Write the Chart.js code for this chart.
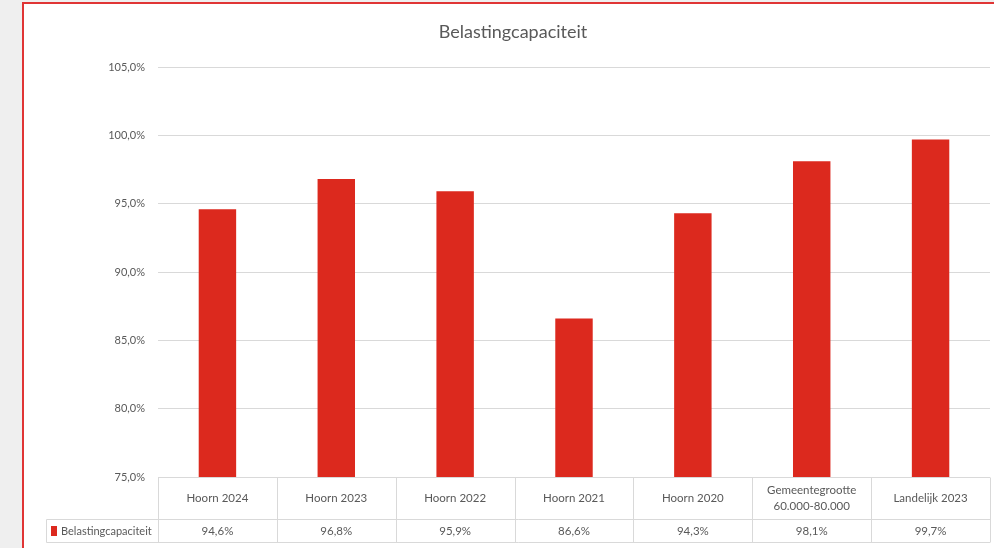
<!DOCTYPE html>
<html>
<head>
<meta charset="utf-8">
<script src="https://cdn.jsdelivr.net/npm/chart.js@4.4.1/dist/chart.umd.min.js"></script>
<style>
  html, body { margin: 0; padding: 0; background: #efefef; width: 994px; height: 548px; overflow: hidden; }
  #frame { position: absolute; left: 22px; top: 2px; width: 1000px; height: 600px; background: #ffffff; border-top: 2px solid #e03535; border-left: 2px solid #e03535; }
  #wrap { position: absolute; left: 0; top: 0; width: 994px; height: 548px; }
</style>
</head>
<body>
<div id="frame"></div>
<div id="wrap"><canvas id="c" width="994" height="548"></canvas></div>
<script>
const chartTitle = "Belastingcapaciteit";
const seriesName = "Belastingcapaciteit";
const categories = [
  "Hoorn 2024",
  "Hoorn 2023",
  "Hoorn 2022",
  "Hoorn 2021",
  "Hoorn 2020",
  ["Gemeentegrootte", "60.000-80.000"],
  "Landelijk 2023"
];
const values = [94.6, 96.8, 95.9, 86.6, 94.3, 98.1, 99.7];
const yMin = 75, yMax = 105, yStep = 5;

const textColor = "#595959";
const lineColor = "#d9d9d9";
const barColor = "#dc291e";
const fontFamily = "Lato, 'Open Sans', sans-serif";

function fmt(v) { return v.toFixed(1).replace('.', ',') + '%'; }

const dataTablePlugin = {
  id: 'dataTable',
  afterDraw(chart) {
    const ctx = chart.ctx;
    const area = chart.chartArea;
    const xs = chart.scales.x;
    const n = chart.data.labels.length;
    const catW = (area.right - area.left) / n;
    const top = Math.round(area.bottom) + 0.5;
    const mid = top + 42;
    const bot = mid + 23;
    const legendLeft = 46.5;
    ctx.save();
    ctx.strokeStyle = lineColor;
    ctx.lineWidth = 1;
    ctx.beginPath();
    ctx.moveTo(area.left, top); ctx.lineTo(area.right, top);
    ctx.moveTo(legendLeft, mid); ctx.lineTo(area.right, mid);
    ctx.moveTo(legendLeft, bot); ctx.lineTo(area.right, bot);
    ctx.moveTo(legendLeft, mid); ctx.lineTo(legendLeft, bot);
    for (let i = 0; i <= n; i++) {
      const px = Math.round(area.left + i * catW) + 0.5;
      ctx.moveTo(px, top); ctx.lineTo(px, bot);
    }
    ctx.stroke();

    ctx.fillStyle = textColor;
    ctx.font = "11.5px " + fontFamily;
    ctx.textAlign = 'center';
    ctx.textBaseline = 'middle';
    const vy = (mid + bot) / 2;
    const ds = chart.data.datasets[0];
    ds.data.forEach((v, i) => {
      ctx.fillText(fmt(v), xs.getPixelForValue(i), vy);
    });
    // legend key + series name
    ctx.fillStyle = ds.backgroundColor;
    ctx.fillRect(51, vy - 5, 6, 10);
    ctx.fillStyle = textColor;
    ctx.font = "11px " + fontFamily;
    ctx.textAlign = 'left';
    ctx.fillText(ds.label, 61, vy);
    ctx.restore();
  }
};

new Chart(document.getElementById('c'), {
  type: 'bar',
  data: {
    labels: categories,
    datasets: [{
      label: seriesName,
      data: values,
      backgroundColor: barColor,
      borderWidth: 0,
      categoryPercentage: 1,
      barPercentage: 0.315
    }]
  },
  plugins: [dataTablePlugin],
  options: {
    responsive: false,
    animation: false,
    devicePixelRatio: 1,
    layout: { padding: { left: 36, right: 4, top: 0, bottom: 0 } },
    plugins: {
      legend: { display: false },
      tooltip: { enabled: false },
      title: {
        display: true,
        text: chartTitle,
        color: textColor,
        font: { family: fontFamily, size: 18, weight: 'normal', lineHeight: 1.2 },
        padding: { top: 21, bottom: 24.4 }
      }
    },
    scales: {
      y: {
        min: yMin, max: yMax,
        afterFit(s) { s.width = 122; },
        border: { display: false },
        grid: { color: lineColor, drawTicks: false, lineWidth: 1 },
        ticks: {
          stepSize: yStep,
          padding: 13,
          color: textColor,
          font: { family: fontFamily, size: 11 },
          callback: (v) => fmt(v)
        }
      },
      x: {
        afterFit(s) { s.height = 71; },
        border: { display: false },
        grid: { display: false, drawTicks: false },
        ticks: {
          autoSkip: false,
          maxRotation: 0,
          minRotation: 0,
          padding: 13,
          crossAlign: 'center',
          color: textColor,
          font: { family: fontFamily, size: 11.5, lineHeight: 1.45 }
        }
      }
    }
  }
});
</script>
</body>
</html>
